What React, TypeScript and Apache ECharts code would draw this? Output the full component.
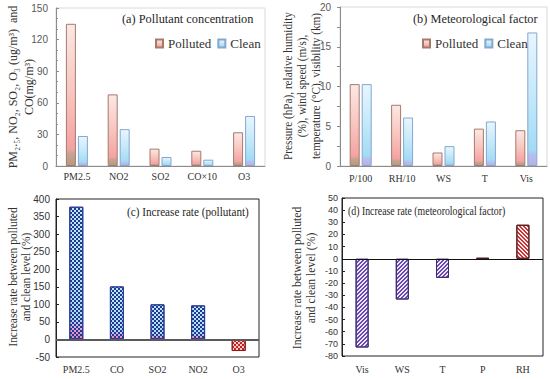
import React, { useEffect, useRef } from 'react';
import * as echarts from 'echarts';

// ---- data ----
const catsA = ['PM2.5', 'NO2', 'SO2', 'CO×10', 'O3'];
const pollutedA = [135, 68, 16.5, 14.5, 32];
const cleanA = [28.5, 35, 8.5, 6, 47.5];

const catsB = ['P/100', 'RH/10', 'WS', 'T', 'Vis'];
const pollutedB = [10.3, 7.7, 1.7, 4.7, 4.5];
const cleanB = [10.3, 6.1, 2.5, 5.6, 16.8];

const catsC = ['PM2.5', 'CO', 'SO2', 'NO2', 'O3'];
const rateC = [378, 151, 100, 97, -33];

const catsD = ['Vis', 'WS', 'T', 'P', 'RH'];
const rateD = [-73, -33.5, -15.7, 0.7, 28];

const legendNames = ['Polluted', 'Clean'];

const SERIF = '"Liberation Serif", "Times New Roman", serif';
const SANS = '"Liberation Sans", Arial, sans-serif';

const gradPolluted = new echarts.graphic.LinearGradient(0, 0, 0, 1, [
  { offset: 0, color: '#fbe8e3' },
  { offset: 0.5, color: '#f9c4be' },
  { offset: 0.88, color: '#f4a2a2' },
  { offset: 0.92, color: '#c4a490' },
  { offset: 1, color: '#b8987f' },
]);
const gradClean = new echarts.graphic.LinearGradient(0, 0, 0, 1, [
  { offset: 0, color: '#e8f6fd' },
  { offset: 0.5, color: '#c2e8f9' },
  { offset: 0.88, color: '#a2dbf4' },
  { offset: 0.92, color: '#b4c0ec' },
  { offset: 1, color: '#b8b0e6' },
]);

const checkerDecal = (color: string) => ({
  symbol: 'rect',
  symbolSize: 1,
  dashArrayX: [[2, 2], [0, 2, 2, 0]],
  dashArrayY: [2, 0],
  color,
});
// diagonal stair patterns, 1px rows
const HATCH_BACK = [[2, 2], [0, 1, 2, 1], [0, 2, 2, 0], [1, 2, 1, 0]]; // "\"
const HATCH_FWD = [[1, 2, 1, 0], [0, 2, 2, 0], [0, 1, 2, 1], [2, 2]]; // "/"
const hatchDecal = (color: string, rows: number[][]) => ({
  symbol: 'rect',
  symbolSize: 1,
  dashArrayX: rows,
  dashArrayY: [1, 0],
  color,
});

export default function App() {
  const ref = useRef<HTMLDivElement>(null);
  useEffect(() => {
    if (!ref.current) return;
    const chart = echarts.init(ref.current, null, { renderer: 'svg' });

    const grids = [
      { left: 56, top: 8, width: 209, height: 158, show: true, borderColor: '#d9d9d9', borderWidth: 1 },
      { left: 340, top: 7, width: 207, height: 159, show: true, borderColor: '#d9d9d9', borderWidth: 1 },
      { left: 56, top: 199, width: 203, height: 158, show: true, borderColor: '#222', borderWidth: 1 },
      { left: 342, top: 198, width: 201, height: 158, show: true, borderColor: '#222', borderWidth: 1 },
    ];

    const catAxis = (idx: number, data: string[], margin: number, lineColor: string, showLine: boolean) => ({
      type: 'category',
      gridIndex: idx,
      data,
      axisLine: { show: showLine, onZero: false, lineStyle: { color: lineColor, width: 1 } },
      axisTick: { show: false },
      axisLabel: { fontFamily: SERIF, fontSize: 10, color: '#333', margin, interval: 0 },
      splitLine: { show: false },
    });

    const xAxis = [
      catAxis(0, catsA, 5, '#8c8c8c', true),
      catAxis(1, catsB, 7, '#8c8c8c', true),
      catAxis(2, catsC, 7, '#222', false),
      catAxis(3, catsD, 8, '#222', false),
    ];

    const yAxis = [
      {
        type: 'value', gridIndex: 0, min: 0, max: 150, interval: 30,
        axisLine: { show: true, lineStyle: { color: '#8c8c8c' } },
        axisTick: { show: true, inside: true, length: 3, lineStyle: { color: '#8c8c8c' } },
        minorTick: { show: true, splitNumber: 3, length: 2, lineStyle: { color: '#8c8c8c' } },
        axisLabel: { fontFamily: SANS, fontSize: 10, color: '#595959', margin: 8 },
        splitLine: { show: false },
      },
      {
        type: 'value', gridIndex: 1, min: 0, max: 20, interval: 5,
        axisLine: { show: true, lineStyle: { color: '#8c8c8c' } },
        axisTick: { show: true, inside: false, length: 3, lineStyle: { color: '#8c8c8c' } },
        minorTick: { show: true, splitNumber: 2, length: 3, lineStyle: { color: '#8c8c8c' } },
        axisLabel: { fontFamily: SANS, fontSize: 10, color: '#595959', margin: 9 },
        splitLine: { show: false },
      },
      {
        type: 'value', gridIndex: 2, min: -50, max: 400, interval: 50,
        axisLine: { show: true, lineStyle: { color: '#222' } },
        axisTick: { show: true, inside: true, length: 3, lineStyle: { color: '#222' } },
        axisLabel: { fontFamily: SANS, fontSize: 10, color: '#333', margin: 6 },
        splitLine: { show: false },
      },
      {
        type: 'value', gridIndex: 3, min: -80, max: 50, interval: 10,
        axisLine: { show: true, lineStyle: { color: '#222' } },
        axisTick: { show: true, inside: true, length: 3, lineStyle: { color: '#222' } },
        axisLabel: { fontFamily: SANS, fontSize: 9, color: '#333', margin: 4 },
        splitLine: { show: false },
      },
    ];

    const styleP = { color: gradPolluted, borderColor: '#a37b6d', borderWidth: 1 };
    const styleC = { color: gradClean, borderColor: '#86a6d0', borderWidth: 1 };

    const posC = {
      color: new echarts.graphic.LinearGradient(0, 0, 0, 1, [
        { offset: 0, color: '#b8ecfb' },
        { offset: 0.85, color: '#a4def4' },
        { offset: 0.93, color: '#e4a0d0' },
        { offset: 1, color: '#e878b8' },
      ]),
      borderColor: '#2a3c94', borderWidth: 1,
      decal: checkerDecal('#26378f'),
    };
    const negC = {
      color: '#f8c8c8', borderColor: '#8a1c1c', borderWidth: 1,
      decal: checkerDecal('#c42222'),
    };
    const posD = {
      color: '#fde8ea', borderColor: '#4a1a1a', borderWidth: 1,
      decal: hatchDecal('#c83232', HATCH_BACK),
    };
    const negD = {
      color: '#ece6fa', borderColor: '#3a2a6a', borderWidth: 1,
      decal: hatchDecal('#6a48b0', HATCH_FWD),
    };

    const zeroLine = (color: string, width: number) => ({
      silent: true, symbol: 'none', label: { show: false },
      lineStyle: { color, width, type: 'solid' },
      data: [{ yAxis: 0 }],
    });

    const series = [
      { type: 'bar', name: 'Polluted', xAxisIndex: 0, yAxisIndex: 0, data: pollutedA, barWidth: 10, barGap: '20%', itemStyle: styleP },
      { type: 'bar', name: 'Clean', xAxisIndex: 0, yAxisIndex: 0, data: cleanA, barWidth: 10, barGap: '20%', itemStyle: styleC },
      { type: 'bar', name: 'Polluted', xAxisIndex: 1, yAxisIndex: 1, data: pollutedB, barWidth: 10, barGap: '20%', itemStyle: styleP },
      { type: 'bar', name: 'Clean', xAxisIndex: 1, yAxisIndex: 1, data: cleanB, barWidth: 10, barGap: '20%', itemStyle: styleC },
      {
        type: 'bar', name: 'Increase rate (pollutant)', xAxisIndex: 2, yAxisIndex: 2, barWidth: 14,
        data: rateC.map((v) => ({ value: v, itemStyle: v >= 0 ? posC : negC })),
        markLine: zeroLine('#5a5a5a', 2),
      },
      {
        type: 'bar', name: 'Increase rate (meteorological factor)', xAxisIndex: 3, yAxisIndex: 3, barWidth: 13,
        data: rateD.map((v) => ({ value: v, itemStyle: v >= 0 ? posD : negD })),
        markLine: zeroLine('#111', 1),
      },
    ];

    const legendBase = {
      data: legendNames, icon: 'rect', itemWidth: 7, itemHeight: 8, itemGap: 6, padding: 0,
      textStyle: { fontFamily: SERIF, fontSize: 13, color: '#333' },
      selectedMode: false,
    };

    const title = (x: number, y: number, text: string, size: number, sx: number) => ({
      type: 'text', x, y, scaleX: sx, silent: true,
      style: { text, fontFamily: SERIF, fontSize: size, fill: '#262626', textAlign: 'left', textVerticalAlign: 'middle' },
    });
    const yName = (x: number, y: number, text: string, size: number, lh: number, sx: number) => ({
      type: 'text', x, y, rotation: Math.PI / 2, scaleX: sx, silent: true,
      style: { text, fontFamily: SERIF, fontSize: size, lineHeight: lh, fill: '#333', textAlign: 'center', textVerticalAlign: 'middle' },
    });

    chart.setOption({
      animation: false,
      backgroundColor: '#fff',
      grid: grids,
      xAxis,
      yAxis,
      series,
      legend: [
        { ...legendBase, left: 155, top: 37 },
        { ...legendBase, left: 422, top: 37 },
      ],
      graphic: [
        title(122, 19, '(a) Pollutant concentration', 13, 0.95),
        title(413, 19, '(b) Meteorological factor', 13, 0.95),
        title(127, 212, '(c) Increase rate (pollutant)', 13, 0.86),
        title(348, 211, '(d) Increase rate (meteorological factor)', 12, 0.82),
        yName(21, 87, 'PM₂.₅, NO₂, SO₂, O₃ (ug/m³)  and\nCO(mg/m³)', 13, 16, 0.92),
        yName(302, 86, 'Pressure (hPa), relative humidity\n(%), wind speed (m/s),\ntemperature (°C), visibility (km)', 12.5, 14, 0.9),
        yName(19, 277, 'Increase rate between polluted\nand clean level (%)', 13, 13, 0.88),
        yName(304, 278, 'Increase rate between polluted\nand clean level (%)', 13, 14, 0.9),
      ],
    });
    return () => chart.dispose();
  }, []);
  return <div ref={ref} style={{ position: 'fixed', left: 0, top: 0, width: 550, height: 379, background: '#fff' }} />;
}
